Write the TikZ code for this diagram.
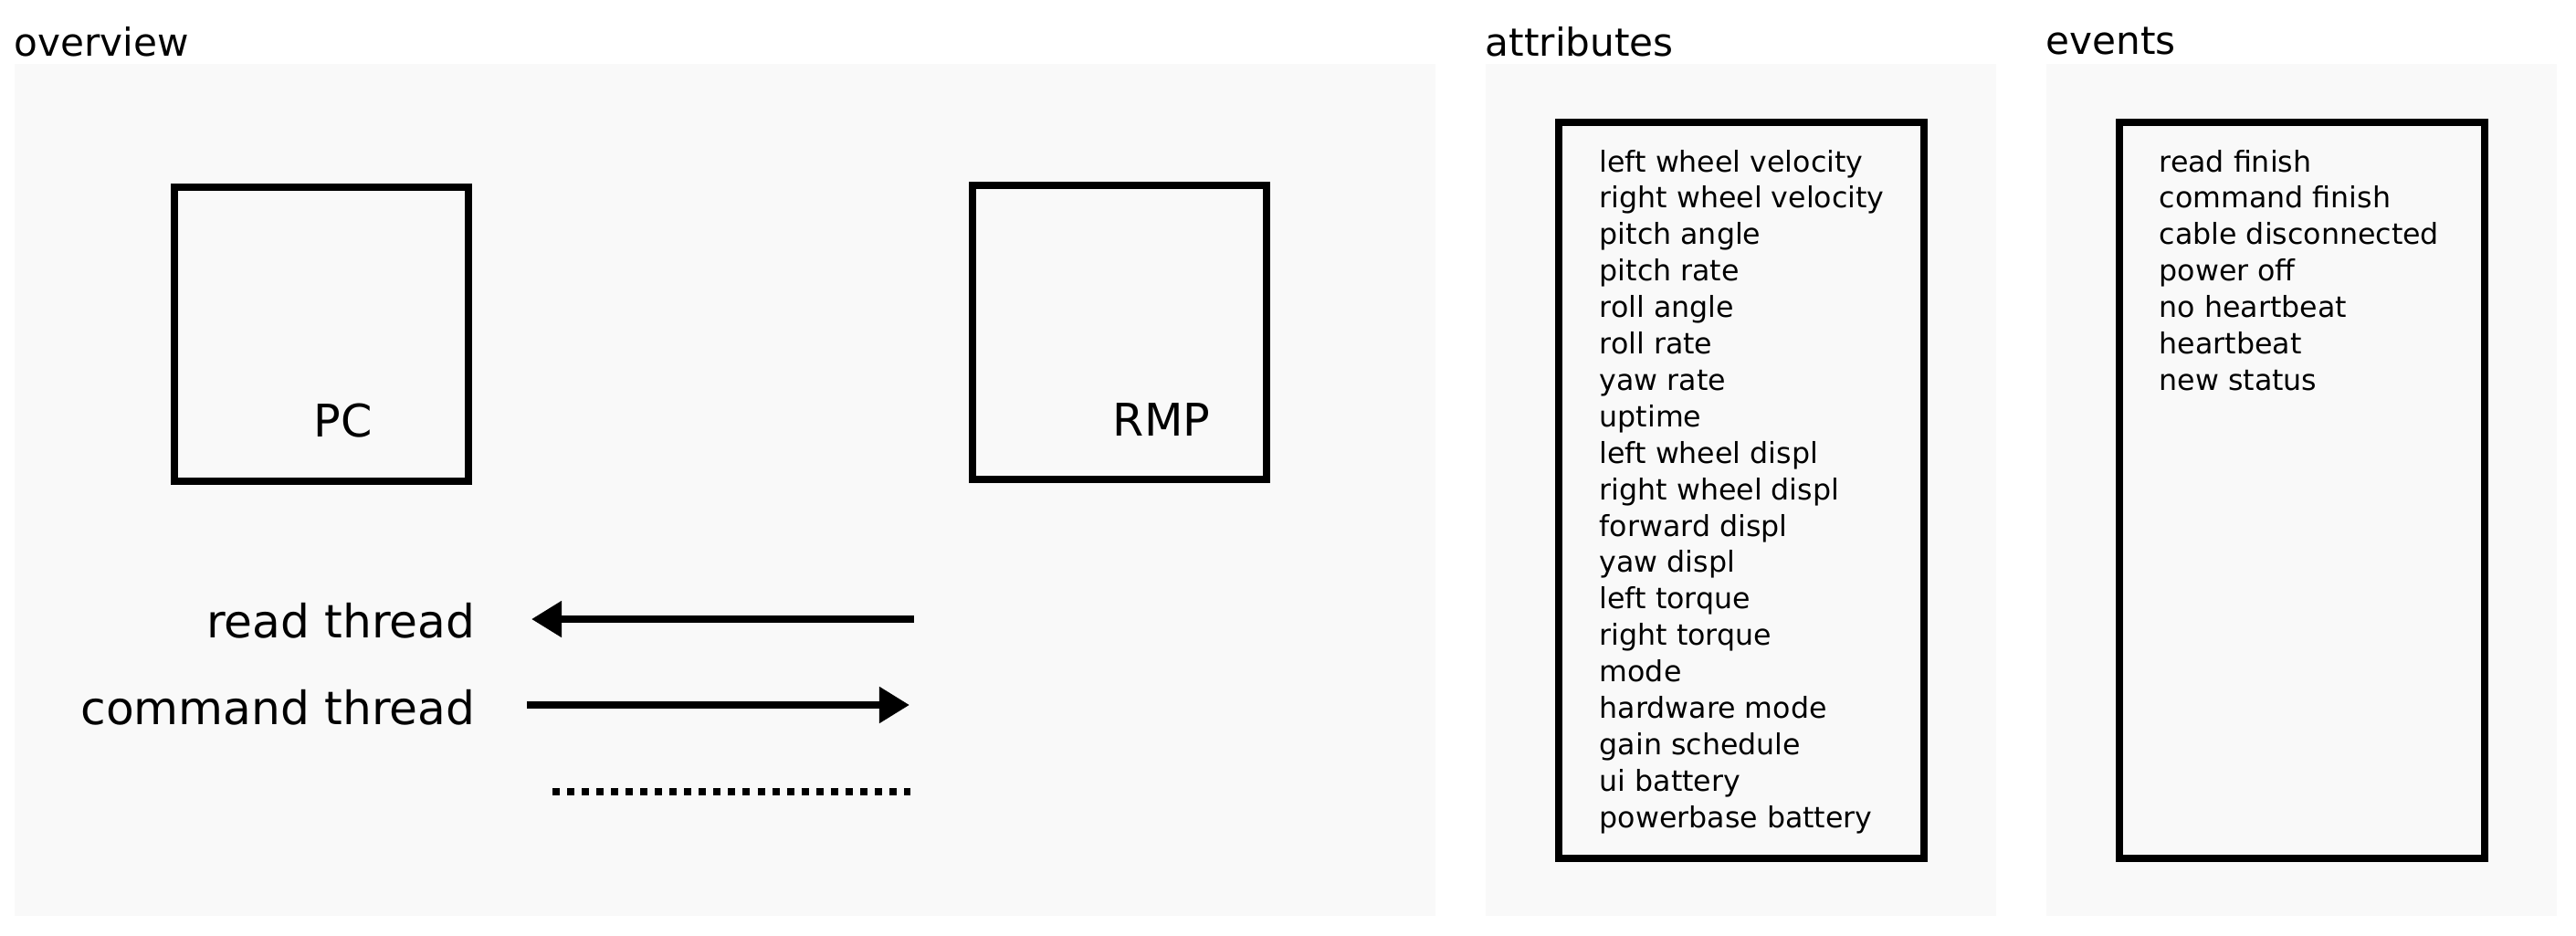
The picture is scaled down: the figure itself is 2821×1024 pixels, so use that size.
\documentclass[tikz,border=0pt]{standalone}
\usepackage{fontspec}
\setmainfont{DejaVu Sans}
\usetikzlibrary{arrows.meta}
\definecolor{panelgray}{HTML}{F9F9F9}
\tikzset{>={Triangle[length=9.4pt,width=10.8pt]}}
\tikzset{
  panel/.style={fill=panelgray,draw=none},
  unitbox/.style={draw,line width=2.28pt,minimum width=3.22cm,minimum height=3.21cm,inner sep=0pt},
  listbox/.style={draw,line width=2.28pt,minimum width=3.995cm,minimum height=8.055cm,inner sep=0pt},
  heading/.style={inner sep=0pt,font=\fontsize{12pt}{14pt}\selectfont},
  bigtext/.style={inner sep=0pt,font=\fontsize{14pt}{17pt}\selectfont},
  threadtext/.style={inner sep=0pt,anchor=base east,font=\fontsize{14.3pt}{17pt}\selectfont},
  itemtext/.style={inner sep=0pt,anchor=base west,font=\fontsize{9pt}{11pt}\selectfont},
  thread/.style={line width=2.28pt}
}

\begin{document}
\begin{tikzpicture}[x=0.01cm,y=-0.01cm]
\useasboundingbox (0,0) rectangle (2821,1024);
% panels
\fill[panel] (16,70) rectangle (1572,1003);
\fill[panel] (1627,70) rectangle (2186,1003);
\fill[panel] (2241,70) rectangle (2800,1003);
\node[heading,anchor=base west] (overview) at (15,61) {overview};
\node[heading,anchor=base west] (attributes) at (1626,61) {attributes};
\node[heading,anchor=base west] (events) at (2240,59) {events};

% overview
\node[unitbox] (pc) at (352,366) {};
\node[unitbox] (rmp) at (1226,364) {};
\node[bigtext,anchor=base] (pclabel) at (376,478) {PC};
\node[bigtext,anchor=base] (rmplabel) at (1272,477) {RMP};
\node[threadtext] (readlabel) at (521,698) {read thread};
\node[threadtext] (cmdlabel) at (521,793) {command thread};
\coordinate (readstart) at (1001,678);
\coordinate (readend) at (582,678);
\coordinate (cmdstart) at (577,772);
\coordinate (cmdend) at (996,772);
\coordinate (dotstart) at (605,867);
\coordinate (dotend) at (997,867);
\draw[thread,->] (readstart) -- (readend);
\draw[thread,->] (cmdstart) -- (cmdend);
\draw[thread,dash pattern=on 2.28pt off 2.28pt] (dotstart) -- (dotend);

% attributes
\node[listbox] (attrbox) at (1906.8,536.8) {};
\foreach \txt [count=\i] in {left wheel velocity, right wheel velocity, pitch angle,
  pitch rate, roll angle, roll rate, yaw rate, uptime, left wheel displ,
  right wheel displ, forward displ, yaw displ, left torque, right torque, mode,
  hardware mode, gain schedule, ui battery, powerbase battery}
  \node[itemtext] (attr\i) at (1751,148.1+39.9*\i) {\txt};

% events
\node[listbox] (eventbox) at (2520.8,536.8) {};
\foreach \txt [count=\i] in {read finish, command finish, cable disconnected,
  power off, no heartbeat, heartbeat, new status}
  \node[itemtext] (event\i) at (2364,148.1+39.9*\i) {\txt};
\end{tikzpicture}
\end{document}
